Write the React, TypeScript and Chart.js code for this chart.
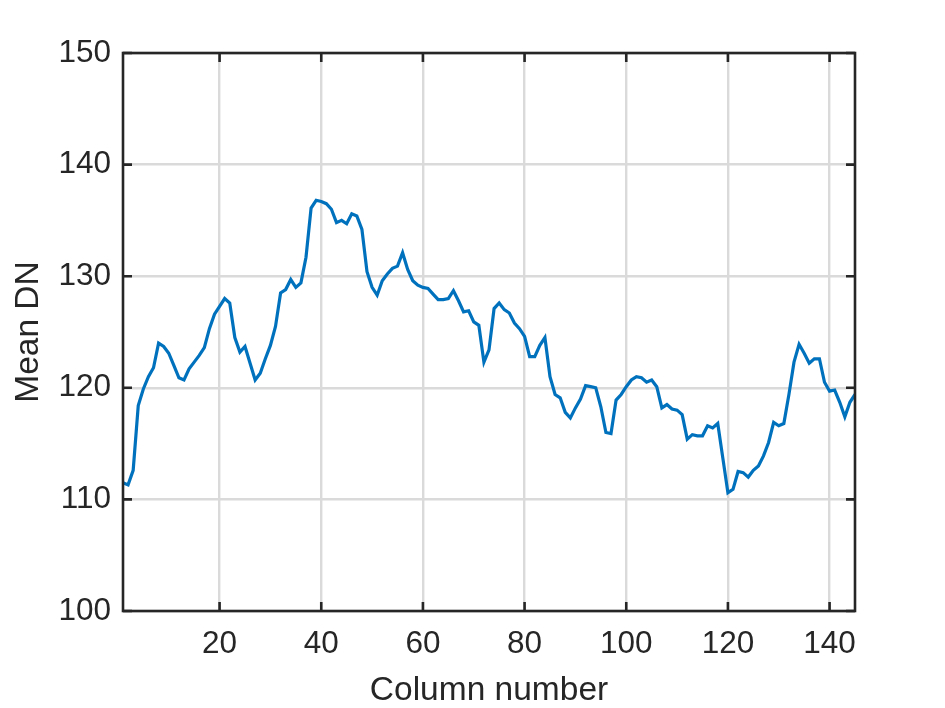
import { useEffect, useRef } from "react";
import { Chart, registerables } from "chart.js";

Chart.register(...registerables);

// Mean DN per column (columns 1..145)
const meanDN: number[] = [
  111.5, 111.3, 112.6, 118.4, 119.9, 121.0, 121.8, 124.0, 123.7, 123.1,
  122.0, 120.9, 120.7, 121.7, 122.3, 122.9, 123.6, 125.3, 126.6, 127.3,
  128.0, 127.6, 124.5, 123.2, 123.7, 122.2, 120.7, 121.3, 122.6, 123.8,
  125.5, 128.5, 128.8, 129.7, 129.0, 129.4, 131.7, 136.1, 136.8, 136.7,
  136.5, 136.0, 134.8, 135.0, 134.7, 135.6, 135.4, 134.2, 130.4, 129.0,
  128.3, 129.6, 130.2, 130.7, 130.9, 132.1, 130.6, 129.6, 129.2, 129.0,
  128.9, 128.4, 127.9, 127.9, 128.0, 128.7, 127.8, 126.8, 126.9, 125.9,
  125.6, 122.3, 123.4, 127.1, 127.6, 127.0, 126.7, 125.8, 125.3, 124.6,
  122.8, 122.8, 123.8, 124.5, 121.0, 119.4, 119.1, 117.8, 117.3, 118.2,
  119.0, 120.2, 120.1, 120.0, 118.3, 116.0, 115.9, 118.9, 119.4, 120.1,
  120.7, 121.0, 120.9, 120.5, 120.7, 120.1, 118.2, 118.5, 118.1, 118.0,
  117.6, 115.4, 115.8, 115.7, 115.7, 116.6, 116.4, 116.8, 113.7, 110.6,
  110.9, 112.5, 112.4, 112.0, 112.6, 113.0, 113.9, 115.1, 116.9, 116.6,
  116.8, 119.4, 122.3, 123.9, 123.1, 122.2, 122.6, 122.6, 120.5, 119.7,
  119.8, 118.7, 117.4, 118.7, 119.4,
];

const firstColumn = 1;
const lastColumn = 145;
const xTickValues: number[] = [20, 40, 60, 80, 100, 120, 140];
const yTickValues: number[] = [100, 110, 120, 130, 140, 150];

const xTitle = "Column number";
const yTitle = "Mean DN";

const TEXT = "#262626";
const FONT = "'Liberation Sans', Arial, Helvetica, sans-serif";

const boxPlugin = {
  id: "matlabBox",
  afterDraw(chart: any) {
    const { ctx, chartArea } = chart;
    const { left, right, top, bottom } = chartArea;
    const xs = chart.scales.x;
    const ys = chart.scales.y;
    const tl = 9;
    ctx.save();
    ctx.strokeStyle = TEXT;
    ctx.lineWidth = 2.6;
    ctx.beginPath();
    xTickValues.forEach((v) => {
      const px = xs.getPixelForValue(v);
      ctx.moveTo(px, bottom);
      ctx.lineTo(px, bottom - tl);
      ctx.moveTo(px, top);
      ctx.lineTo(px, top + tl);
    });
    yTickValues.forEach((v) => {
      const py = ys.getPixelForValue(v);
      ctx.moveTo(left, py);
      ctx.lineTo(left + tl, py);
      ctx.moveTo(right, py);
      ctx.lineTo(right - tl, py);
    });
    ctx.stroke();
    ctx.strokeRect(left, top, right - left, bottom - top);
    ctx.restore();
  },
};

export default function App() {
  const canvasRef = useRef<HTMLCanvasElement | null>(null);

  useEffect(() => {
    if (!canvasRef.current) return;
    const points = meanDN.map((v, i) => ({ x: firstColumn + i, y: v }));
    const chart = new Chart(canvasRef.current, {
      type: "line",
      data: {
        datasets: [
          {
            data: points,
            borderColor: "#0072BD",
            borderWidth: 3.2,
            pointRadius: 0,
            tension: 0,
            fill: false,
          },
        ],
      },
      options: {
        animation: false,
        responsive: true,
        maintainAspectRatio: false,
        layout: { padding: { top: 53, right: 90, left: 0, bottom: 0 } },
        plugins: {
          legend: { display: false },
          tooltip: { enabled: false },
        },
        scales: {
          x: {
            type: "linear",
            min: firstColumn,
            max: lastColumn,
            afterBuildTicks: (s: any) => {
              s.ticks = xTickValues.map((v) => ({ value: v }));
            },
            afterFit: (s: any) => {
              s.height = 97;
            },
            border: { display: false },
            grid: { color: "#dadada", lineWidth: 2.4, drawTicks: false },
            ticks: {
              color: TEXT,
              font: { family: FONT, size: 31.5 },
              padding: 14,
              maxRotation: 0,
              autoSkip: false,
            },
            title: {
              display: true,
              text: xTitle,
              color: TEXT,
              font: { family: FONT, size: 33.5 },
              padding: { top: 0, bottom: -3 },
            },
          },
          y: {
            type: "linear",
            min: 100,
            max: 150,
            afterBuildTicks: (s: any) => {
              s.ticks = yTickValues.map((v) => ({ value: v }));
            },
            afterFit: (s: any) => {
              s.width = 123;
            },
            border: { display: false },
            grid: { color: "#dadada", lineWidth: 2.4, drawTicks: false },
            ticks: {
              color: TEXT,
              font: { family: FONT, size: 31.5 },
              padding: 12,
              autoSkip: false,
            },
            title: {
              display: true,
              text: yTitle,
              color: TEXT,
              font: { family: FONT, size: 33.5 },
              padding: { top: 9, bottom: 0 },
            },
          },
        },
      },
      plugins: [boxPlugin],
    });
    return () => chart.destroy();
  }, []);

  return (
    <div
      style={{
        position: "fixed",
        left: 0,
        top: 0,
        width: 945,
        height: 708,
        background: "#ffffff",
      }}
    >
      <canvas ref={canvasRef} />
    </div>
  );
}
